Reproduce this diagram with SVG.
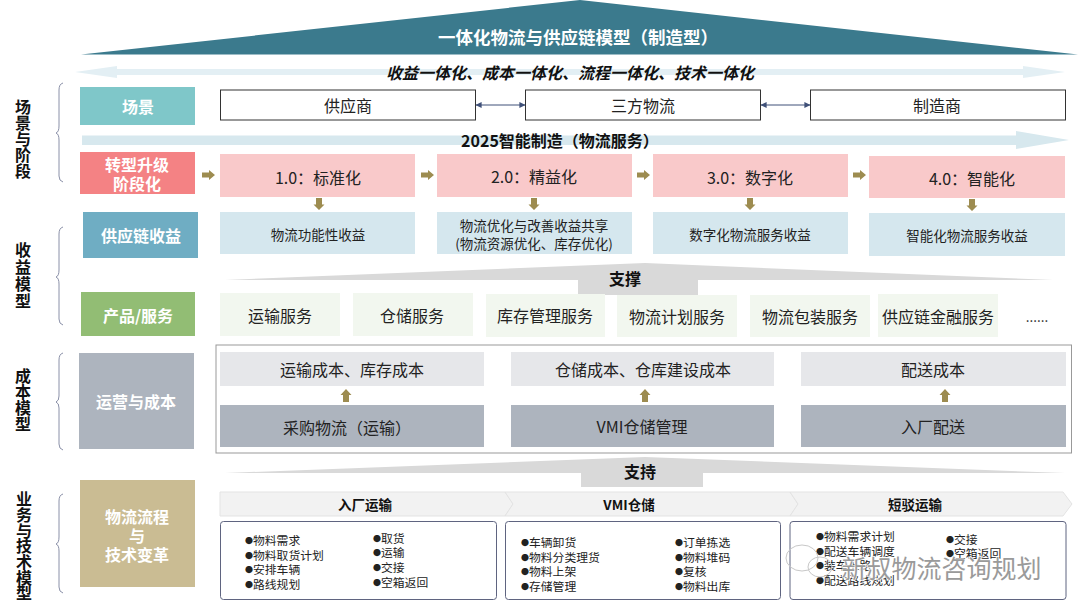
<svg xmlns="http://www.w3.org/2000/svg" width="1080" height="615" viewBox="0 0 1080 615">
<style>
text{font-family:"Noto Sans CJK SC","Noto Sans",sans-serif;text-anchor:middle;dominant-baseline:central;fill:#222;transform:translateY(-2.500px)}
.w{fill:#fff;font-weight:700;font-size:16px}
.n{font-size:16px}
.s{font-size:13.500px}
.b{font-weight:700;font-size:16px;fill:#111}
.c{font-weight:700;font-size:13.500px;fill:#111}
.v{font-weight:700;font-size:16px;fill:#111}
.l{font-size:11.800px;text-anchor:start}
.d{font-size:8px}
.brace{fill:none;stroke:#8a90a8;stroke-width:1}
.box{fill:#fff;stroke:#333;stroke-width:1}
.pink{fill:#f9c9ca}.blue{fill:#d5e7ee}.prod{fill:#f2f7ef}.top{fill:#e6e7ea}.bot{fill:#adb4be}
.chev{fill:#f2f2f2;stroke:#e3e3e3}
.det{fill:#fff;stroke:#5f6480;stroke-width:1}
.ar{fill:#9d8c50}
.gr{fill:#d9d9d9}
.wm{font-size:25px;fill:#9a9a9a;stroke:#fff;stroke-width:1.500px;paint-order:stroke}
</style>
<defs>
<marker id="m" viewBox="0 0 8 8" refX="7.5" refY="4" markerWidth="6" markerHeight="6" orient="auto-start-reverse"><path d="M0 0L8 4L0 8Z" fill="#3f5078"/></marker>
<path id="ra" d="M0 -2.500H7V-5L13 0L7 5V2.500H0Z"/>
<path id="da" d="M-3 0H3V6.500H5.500L0 12L-5.500 6.500H-3Z"/>
<path id="ua" d="M-3 13H3V6H5.500L0 0L-5.500 6H-3Z"/>
</defs>

<g id="banner">
<path d="M81 54.500L580 0L1078 54.500Z" fill="#3b7a8d"/>
<text x="578" y="38.500" class="w" style="font-size:17.500px">一体化物流与供应链模型（制造型）</text>
</g>
<g id="integration">
<path d="M75 72L117 66V69H1023V66L1065 72L1023 78V75H117V78Z" fill="#e3eff4"/>
<text x="570" y="74.500" style="font-size:16px;font-weight:700;font-style:italic;fill:#111">收益一体化、成本一体化、流程一体化、技术一体化</text>
</g>

<g id="side-labels">
<text class="v" x="23"><tspan x="23" y="108">场</tspan><tspan x="23" y="124">景</tspan><tspan x="23" y="140">与</tspan><tspan x="23" y="156">阶</tspan><tspan x="23" y="172">段</tspan></text>
<text class="v" x="23"><tspan x="23" y="251">收</tspan><tspan x="23" y="268">益</tspan><tspan x="23" y="285">模</tspan><tspan x="23" y="302">型</tspan></text>
<text class="v" x="23"><tspan x="23" y="377">成</tspan><tspan x="23" y="393">本</tspan><tspan x="23" y="409">模</tspan><tspan x="23" y="425">型</tspan></text>
<text class="v" x="24"><tspan x="24" y="500">业</tspan><tspan x="24" y="516">务</tspan><tspan x="24" y="532">与</tspan><tspan x="24" y="547">技</tspan><tspan x="24" y="563">术</tspan><tspan x="24" y="579">模</tspan><tspan x="24" y="594">型</tspan></text>
<path class="brace" d="M63 83Q59 84 59 90V126Q59 132 56 133Q59 134 59 140V176Q59 181 63 182"/>
<path class="brace" d="M63 227Q59 228 59 234V270Q59 276 56 277Q59 278 59 284V319Q59 324 63 325"/>
<path class="brace" d="M63 353Q59 354 59 360V396Q59 401 56 402Q59 403 59 408V444Q59 449 63 450"/>
<path class="brace" d="M63 494Q59 495 59 501V537Q59 543 56 544Q59 545 59 551V587Q59 592 63 593"/>
</g>

<g id="node-scene"><rect x="80" y="87" width="115" height="38" fill="#7fc7c9"/><text class="w" x="138" y="108">场景</text></g>
<g id="node-stage"><rect x="80" y="152" width="115" height="42" fill="#f48284"/><text class="w" x="137" y="166">转型升级</text><text class="w" x="137" y="185">阶段化</text></g>
<g id="node-benefit"><rect x="83" y="212" width="115" height="46" fill="#6fadc3"/><text class="w" x="141" y="237">供应链收益</text></g>
<g id="node-product"><rect x="81" y="292" width="114" height="44" fill="#92bd74"/><text class="w" x="138" y="317">产品/服务</text></g>
<g id="node-cost"><rect x="79" y="353" width="115" height="96" fill="#adb4be"/><text class="w" x="136" y="403">运营与成本</text></g>
<g id="node-process"><rect x="80" y="480" width="115" height="107" fill="#cabc93"/><text class="w" x="137" y="518">物流流程</text><text class="w" x="137" y="537">与</text><text class="w" x="137" y="556">技术变革</text></g>

<g id="node-supplier"><rect class="box" x="220.500" y="90" width="255" height="30"/><text class="n" x="348" y="107">供应商</text></g>
<g id="node-3pl"><rect class="box" x="525.500" y="90" width="235" height="30"/><text class="n" x="643" y="107">三方物流</text></g>
<g id="node-maker"><rect class="box" x="810.500" y="90" width="255" height="30"/><text class="n" x="937" y="107">制造商</text></g>

<g id="timeline">
<path d="M82 135.500H1016V131L1069 140L1016 149V145H82Z" fill="#d7e8ee"/>
<text x="560" y="142" class="b">2025智能制造（物流服务）</text>
</g>

<g id="s1"><rect class="pink" x="220" y="154" width="195" height="43"/><text class="n" x="318" y="179">1.0：标准化</text></g>
<g id="s2"><rect class="pink" x="437" y="154" width="195" height="43"/><text class="n" x="534" y="178">2.0：精益化</text></g>
<g id="s3"><rect class="pink" x="653" y="154" width="195" height="43"/><text class="n" x="750" y="179">3.0：数字化</text></g>
<g id="s4"><rect class="pink" x="869" y="156" width="196" height="42"/><text class="n" x="972" y="180">4.0：智能化</text></g>

<g id="b1"><rect class="blue" x="220" y="212" width="195" height="42"/><text class="s" x="318" y="236">物流功能性收益</text></g>
<g id="b2"><rect class="blue" x="437" y="212" width="195" height="42"/><text class="s" x="534" y="227">物流优化与改善收益共享</text><text class="s" x="534" y="245">(物流资源优化、库存优化)</text></g>
<g id="b3"><rect class="blue" x="653" y="212" width="195" height="42"/><text class="s" x="750" y="236">数字化物流服务收益</text></g>
<g id="b4"><rect class="blue" x="869" y="213" width="196" height="43"/><text class="s" x="967" y="237">智能化物流服务收益</text></g>

<g id="support-1"><path class="gr" d="M225 280L645 263L1053 280H698V295H578V280Z"/><text class="b" x="625" y="280">支撑</text></g>

<g id="p1"><rect class="prod" x="220" y="293" width="120" height="43"/><text class="n" x="280" y="317">运输服务</text></g>
<g id="p2"><rect class="prod" x="353" y="293" width="120" height="43"/><text class="n" x="412" y="317">仓储服务</text></g>
<g id="p3"><rect class="prod" x="486" y="294" width="119" height="43"/><text class="n" x="545" y="317">库存管理服务</text></g>
<g id="p4"><rect class="prod" x="617" y="295" width="120" height="42"/><text class="n" x="677" y="318">物流计划服务</text></g>
<g id="p5"><rect class="prod" x="750" y="295" width="120" height="42"/><text class="n" x="810" y="318">物流包装服务</text></g>
<g id="p6"><rect class="prod" x="878" y="294" width="120" height="43"/><text class="n" x="938" y="318">供应链金融服务</text></g>
<text x="1037" y="318" class="s">......</text>

<g id="cost-frame"><rect x="216" y="345" width="855.500" height="108" fill="none" stroke="#999"/></g>
<g id="c1"><rect class="top" x="220" y="352" width="264" height="34"/><text class="n" x="352" y="371">运输成本、库存成本</text></g>
<g id="c2"><rect class="top" x="511" y="352" width="263" height="34"/><text class="n" x="643" y="371">仓储成本、仓库建设成本</text></g>
<g id="c3"><rect class="top" x="801" y="352" width="265" height="34"/><text class="n" x="933" y="371">配送成本</text></g>
<g id="o1"><rect class="bot" x="220" y="405" width="264" height="42"/><text class="n" x="347" y="429">采购物流（运输）</text></g>
<g id="o2"><rect class="bot" x="511" y="405" width="263" height="42"/><text class="n" x="642" y="428">VMI仓储管理</text></g>
<g id="o3"><rect class="bot" x="801" y="405" width="265" height="42"/><text class="n" x="933" y="428">入厂配送</text></g>

<g id="support-2"><path class="gr" d="M225 473L645 457L1065 473H703V487H581V473Z"/><text class="b" x="640" y="473">支持</text></g>

<g id="t1"><path class="chev" d="M220 492H505L513 504L505 516H220Z"/><text class="c" x="365" y="506">入厂运输</text></g>
<g id="t2"><path class="chev" d="M505 492H790L798 504L790 516H505L513 504Z"/><text class="c" x="629" y="506">VMI仓储</text></g>
<g id="t3"><path class="chev" d="M790 492H1063L1072 504L1063 516H790L798 504Z"/><text class="c" x="915" y="506">短驳运输</text></g>

<g id="d1"><rect class="det" x="220.500" y="521.500" width="276" height="78" rx="3"/>
<text class="l" x="245" y="542"><tspan class="d">●</tspan>物料需求</text><text class="l" x="245" y="557"><tspan class="d">●</tspan>物料取货计划</text><text class="l" x="245" y="571"><tspan class="d">●</tspan>安排车辆</text><text class="l" x="245" y="586"><tspan class="d">●</tspan>路线规划</text>
<text class="l" x="373" y="540"><tspan class="d">●</tspan>取货</text><text class="l" x="373" y="554"><tspan class="d">●</tspan>运输</text><text class="l" x="373" y="569"><tspan class="d">●</tspan>交接</text><text class="l" x="373" y="584"><tspan class="d">●</tspan>空箱返回</text></g>
<g id="d2"><rect class="det" x="505.500" y="521.500" width="275" height="78" rx="3"/>
<text class="l" x="521" y="544"><tspan class="d">●</tspan>车辆卸货</text><text class="l" x="521" y="559"><tspan class="d">●</tspan>物料分类理货</text><text class="l" x="521" y="573"><tspan class="d">●</tspan>物料上架</text><text class="l" x="521" y="588"><tspan class="d">●</tspan>存储管理</text>
<text class="l" x="675" y="544"><tspan class="d">●</tspan>订单拣选</text><text class="l" x="675" y="559"><tspan class="d">●</tspan>物料堆码</text><text class="l" x="675" y="573"><tspan class="d">●</tspan>复核</text><text class="l" x="675" y="588"><tspan class="d">●</tspan>物料出库</text></g>
<g id="d3"><rect class="det" x="790" y="521.500" width="276" height="78" rx="3"/>
<text class="l" x="816" y="538"><tspan class="d">●</tspan>物料需求计划</text><text class="l" x="816" y="553"><tspan class="d">●</tspan>配送车辆调度</text><text class="l" x="816" y="567"><tspan class="d">●</tspan>装车上路</text><text class="l" x="816" y="582"><tspan class="d">●</tspan>配送路线规划</text>
<text class="l" x="946" y="541"><tspan class="d">●</tspan>交接</text><text class="l" x="946" y="555"><tspan class="d">●</tspan>空箱返回</text></g>

<g id="connectors">
<path d="M476 105H525" stroke="#3f5078" fill="none" marker-start="url(#m)" marker-end="url(#m)"/>
<path d="M761 105H810" stroke="#3f5078" fill="none" marker-start="url(#m)" marker-end="url(#m)"/>
<g class="ar">
<use href="#ra" x="202" y="175"/><use href="#ra" x="421" y="175"/><use href="#ra" x="637" y="175"/><use href="#ra" x="853" y="175"/>
<use href="#da" x="319" y="198"/><use href="#da" x="534" y="198"/><use href="#da" x="750" y="198"/><use href="#da" x="972" y="199"/>
<use href="#ua" x="346" y="389"/><use href="#ua" x="645" y="389"/><use href="#ua" x="945" y="389"/>
</g>
</g>
<g id="watermark">
<ellipse cx="802" cy="558" rx="16" ry="13" fill="none" stroke="#c8c8c8"/>
<ellipse cx="820" cy="567" rx="12" ry="10" fill="none" stroke="#c8c8c8"/>
<text x="941.500" y="569" class="wm">新叔物流咨询规划</text>
</g>
</svg>
